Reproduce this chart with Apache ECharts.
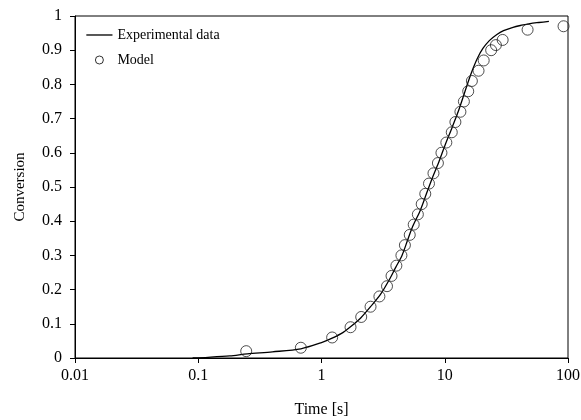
<!DOCTYPE html>
<html>
<head>
<meta charset="utf-8">
<script src="https://cdn.jsdelivr.net/npm/echarts@6/dist/echarts.min.js"></script>
<style>html,body{margin:0;padding:0;background:#fff}#c{width:581px;height:420px}</style>
</head>
<body>
<div id="c"></div>
<script>
// Experimental data (line)
var expTime = [0.09, 0.12, 0.18, 0.25, 0.4, 0.68, 1.0, 1.22, 1.5, 1.76, 2.08, 2.5, 3.0, 3.5, 4.0, 4.5, 5.0, 5.5, 6.3, 7.1, 8.0, 9.0, 10.0, 11.5, 13.0, 14.1, 15.5, 16.9, 18.5, 20.4, 23.0, 26.5, 30.0, 35.8, 42.0, 49.2, 58.0, 70.0];
var expConv = [0.0, 0.002, 0.006, 0.012, 0.018, 0.027, 0.045, 0.058, 0.075, 0.094, 0.117, 0.15, 0.185, 0.225, 0.265, 0.30, 0.345, 0.385, 0.43, 0.48, 0.53, 0.575, 0.62, 0.675, 0.725, 0.763, 0.808, 0.845, 0.878, 0.905, 0.928, 0.946, 0.957, 0.967, 0.973, 0.978, 0.981, 0.984];
// Model (circles)
var modelTime = [0.245, 0.68, 1.22, 1.72, 2.1, 2.5, 2.95, 3.4, 3.7, 4.05, 4.45, 4.75, 5.2, 5.6, 6.05, 6.5, 6.95, 7.45, 8.1, 8.8, 9.4, 10.3, 11.4, 12.2, 13.4, 14.3, 15.5, 16.6, 18.8, 20.7, 23.8, 26.0, 29.5, 47.0, 92.0];
var modelConv = [0.02, 0.03, 0.06, 0.09, 0.12, 0.15, 0.18, 0.21, 0.24, 0.27, 0.30, 0.33, 0.36, 0.39, 0.42, 0.45, 0.48, 0.51, 0.54, 0.57, 0.60, 0.63, 0.66, 0.69, 0.72, 0.75, 0.78, 0.81, 0.84, 0.87, 0.90, 0.915, 0.93, 0.96, 0.97];
var xTicks = [0.01, 0.1, 1, 10, 100];
var yTicks = ['0', '0.1', '0.2', '0.3', '0.4', '0.5', '0.6', '0.7', '0.8', '0.9', '1'];

var expData = expTime.map(function (t, i) { return [t, expConv[i]]; });
var modelData = modelTime.map(function (t, i) { return [t, modelConv[i]]; });
var serif = 'Liberation Serif';

var chart = echarts.init(document.getElementById('c'), null, {renderer: 'canvas'});
chart.setOption({
  animation: false,
  backgroundColor: '#fff',
  grid: {left: 75, right: 13, top: 16, bottom: 62, containLabel: false, outerBoundsMode: 'none', show: true, borderColor: '#000', borderWidth: 1, backgroundColor: 'transparent'},
  legend: {
    orient: 'vertical', left: 86, top: 28, padding: 0, itemGap: 11, itemWidth: 26, itemHeight: 8,
    textStyle: {fontFamily: serif, fontSize: 14, color: '#000'},
    data: [
      {name: 'Experimental data', icon: 'path://M0,0.45L28,0.45L28,0.55L0,0.55Z', itemStyle: {color: '#000', borderColor: '#000', borderWidth: 0.8}},
      {name: 'Model', icon: 'circle', itemStyle: {color: '#fff', borderColor: '#000', borderWidth: 1}}
    ]
  },
  xAxis: {
    type: 'log', logBase: 10, min: 0.01, max: 100,
    name: 'Time [s]', nameLocation: 'middle', nameGap: 44,
    nameTextStyle: {fontFamily: serif, fontSize: 16, color: '#000'},
    axisLine: {show: true, onZero: false, lineStyle: {color: '#000', width: 1}},
    axisTick: {show: true, inside: false, length: 5, lineStyle: {color: '#000'}},
    minorTick: {show: false},
    splitLine: {show: false},
    axisLabel: {
      margin: 10, fontFamily: serif, fontSize: 16, color: '#000',
      formatter: function (v) {
        for (var i = 0; i < xTicks.length; i++) {
          if (Math.abs(Math.log10(v) - Math.log10(xTicks[i])) < 1e-6) return String(xTicks[i]);
        }
        return '';
      }
    }
  },
  yAxis: {
    type: 'value', min: 0, max: 1, interval: 0.1,
    name: 'Conversion', nameLocation: 'middle', nameGap: 47,
    nameTextStyle: {fontFamily: serif, fontSize: 15, color: '#000'},
    axisLine: {show: true, lineStyle: {color: '#000', width: 1}},
    axisTick: {show: true, inside: false, length: 5, lineStyle: {color: '#000'}},
    splitLine: {show: false},
    axisLabel: {
      margin: 13, fontFamily: serif, fontSize: 16, color: '#000',
      formatter: function (v) { return yTicks[Math.round(v * 10)]; }
    }
  },
  series: [
    {
      name: 'Experimental data', type: 'line', data: expData, symbol: 'none', smooth: 0.3,
      lineStyle: {color: '#000', width: 1.3}, itemStyle: {color: '#000'}, z: 2
    },
    {
      name: 'Model', type: 'scatter', data: modelData, symbol: 'circle', symbolSize: 11,
      itemStyle: {color: 'rgba(255,255,255,0)', borderColor: '#222', borderWidth: 1}, z: 3
    }
  ]
});
</script>
</body>
</html>
